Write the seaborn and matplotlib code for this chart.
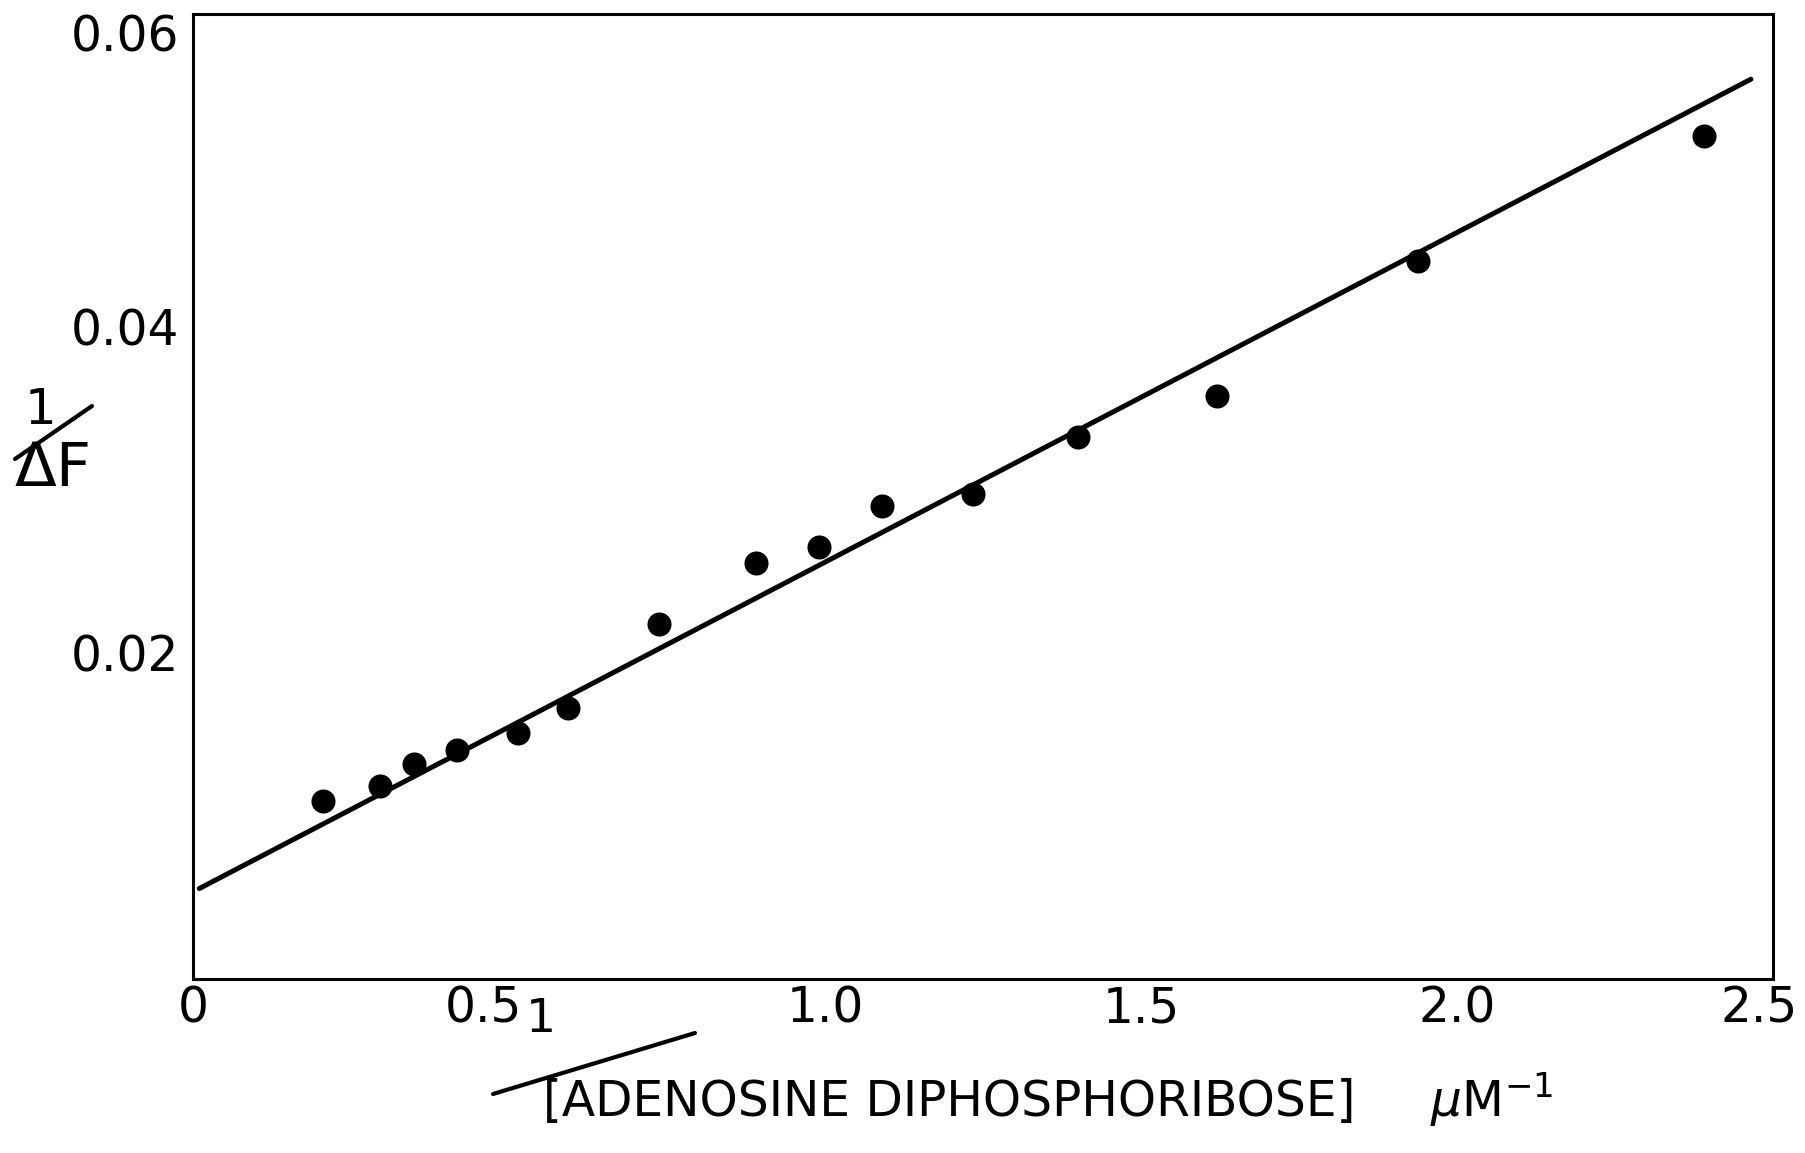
import matplotlib
matplotlib.use("Agg")
import matplotlib.pyplot as plt
from matplotlib.lines import Line2D
from matplotlib.transforms import ScaledTranslation
import seaborn as sns
import pandas as pd

# ---- data ----
inv_adpr = [0.205, 0.296, 0.349, 0.418, 0.514, 0.593, 0.737, 0.891, 0.990,
            1.090, 1.234, 1.400, 1.620, 1.939, 2.391]
inv_dF = [0.01093, 0.01185, 0.01319, 0.01403, 0.01509, 0.01665, 0.02180,
          0.02554, 0.02653, 0.02900, 0.02977, 0.03323, 0.03578, 0.04404, 0.05173]
fit_x = [0.010, 2.465]
fit_y = [0.00555, 0.05520]
x_ticks = [0, 0.5, 1.0, 1.5, 2.0, 2.5]
x_ticklabels = ["0", "0.5", "1.0", "1.5", "2.0", "2.5"]
y_ticks = [0.02, 0.04]
y_ticklabels = ["0.02", "0.04"]
y_top_label = "0.06"

points = pd.DataFrame({"x": inv_adpr, "y": inv_dF})
fit = pd.DataFrame({"x": fit_x, "y": fit_y})

sns.set_style("white")
plt.rcParams["font.family"] = ["DejaVu Sans"]
plt.rcParams["text.color"] = "black"
plt.rcParams["xtick.color"] = "black"
plt.rcParams["ytick.color"] = "black"
plt.rcParams["xtick.labelcolor"] = "black"
plt.rcParams["ytick.labelcolor"] = "black"

W, H = 1805, 1153
fig = plt.figure(figsize=(W / 100, H / 100), dpi=100)
ax = fig.add_axes([193 / W, 1 - 979 / H, (1773 - 193) / W, (979 - 14) / H])

sns.lineplot(data=fit, x="x", y="y", ax=ax, color="black", linewidth=3.6)
sns.scatterplot(data=points, x="x", y="y", ax=ax, color="black",
                edgecolor="black", s=300, linewidth=0, zorder=3)

# the hand-drawn frame ends slightly below 0.06 on the 0.02/0.04 scale
ax.set_xlim(0, 2.5)
ax.set_ylim(0, 0.0592)
ax.set_xticks(x_ticks)
ax.set_xticklabels(x_ticklabels)
ax.set_yticks(y_ticks)
ax.set_yticklabels(y_ticklabels)
ax.set_xlabel("")
ax.set_ylabel("")

for s in ax.spines.values():
    s.set_visible(True)
    s.set_color("black")
    s.set_linewidth(2.2)

ax.tick_params(axis="both", direction="in", length=9, width=1.8,
               labelsize=35, colors="black")
ax.tick_params(axis="x", pad=4)
ax.tick_params(axis="y", pad=10)

# "0.06" lettered at the top corner of the frame
ax.annotate(y_top_label, xy=(0, 1), xycoords="axes fraction",
            xytext=(-10, 0), textcoords="offset points",
            ha="right", va="top", fontsize=35, color="black")

xlabels = ax.get_xticklabels()
xlabels[1].set_transform(xlabels[1].get_transform()
                         + ScaledTranslation(-0.26, 0, fig.dpi_scale_trans))
xlabels[-1].set_transform(xlabels[-1].get_transform()
                          + ScaledTranslation(-0.14, 0, fig.dpi_scale_trans))

# y-axis label: 1 / ΔF  (hand-lettered fraction with slanted bar)
fig.text(40 / W, 1 - 410 / H, "1", fontsize=36, ha="center", va="center")
fig.add_artist(Line2D([15 / W, 92 / W], [1 - 459 / H, 1 - 406 / H],
                      transform=fig.transFigure, color="black", linewidth=3))
fig.text(15 / W, 1 - 470 / H, "ΔF", fontsize=44, ha="left", va="center")

# x-axis label: 1 / [ADENOSINE DIPHOSPHORIBOSE]  µM^-1
fig.text(541 / W, 1 - 1020 / H, "1", fontsize=34, ha="center", va="center")
fig.add_artist(Line2D([493 / W, 695 / W], [1 - 1094 / H, 1 - 1033 / H],
                      transform=fig.transFigure, color="black", linewidth=3))
fig.text(543 / W, 1 - 1102 / H, "[ADENOSINE DIPHOSPHORIBOSE]", fontsize=35,
         ha="left", va="center")
fig.text(1430 / W, 1 - 1100 / H, r"$\mu$M$^{-1}$", fontsize=35,
         ha="left", va="center")

fig.savefig("out.png", dpi=100, facecolor="white")
